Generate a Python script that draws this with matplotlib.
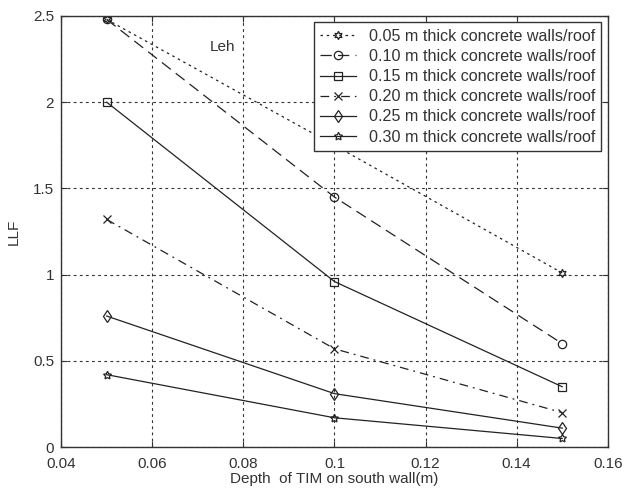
import matplotlib
matplotlib.use('Agg')
import matplotlib.pyplot as plt

plt.rcParams['font.family'] = ['Liberation Sans', 'DejaVu Sans']

depth = [0.05, 0.10, 0.15]

llf_005 = [2.48, 1.75, 1.01]
llf_010 = [2.48, 1.45, 0.60]
llf_015 = [2.00, 0.96, 0.35]
llf_020 = [1.32, 0.57, 0.20]
llf_025 = [0.76, 0.31, 0.11]
llf_030 = [0.42, 0.17, 0.05]

labels = ['0.05 m thick concrete walls/roof',
          '0.10 m thick concrete walls/roof',
          '0.15 m thick concrete walls/roof',
          '0.20 m thick concrete walls/roof',
          '0.25 m thick concrete walls/roof',
          '0.30 m thick concrete walls/roof']

x_ticks = [0.04, 0.06, 0.08, 0.1, 0.12, 0.14, 0.16]
x_tick_labels = ['0.04', '0.06', '0.08', '0.1', '0.12', '0.14', '0.16']
y_ticks = [0, 0.5, 1, 1.5, 2, 2.5]
y_tick_labels = ['0', '0.5', '1', '1.5', '2', '2.5']

fig = plt.figure(figsize=(6.24, 4.99), dpi=100)
ax = fig.add_axes([0.098, 0.104, 0.876, 0.864])

c = '#222222'
common = dict(color=c, lw=0.9, ms=6, mfc='none', mec=c, mew=0.9)
ax.plot(depth, llf_005, ls=(0, (2, 3)), marker=(6, 1, 0), label=labels[0], **common)
ax.plot(depth, llf_010, ls=(0, (9, 5)), marker='o', label=labels[1], **common)
ax.plot(depth, llf_015, ls='-', marker='s', label=labels[2], **common)
ax.plot(depth, llf_020, ls=(0, (7, 4, 1.5, 4)), marker='x', label=labels[3], **common)
ax.plot(depth, llf_025, ls='-', marker='d', label=labels[4], **common)
ax.plot(depth, llf_030, ls='-', marker=(5, 1, 0), label=labels[5], **common)

ax.set_xlim(0.04, 0.16)
ax.set_ylim(0, 2.5)
ax.set_xticks(x_ticks)
ax.set_xticklabels(x_tick_labels)
ax.set_yticks(y_ticks)
ax.set_yticklabels(y_tick_labels)
ax.tick_params(direction='in', length=4, labelsize=11, colors='#333333',
               top=True, right=True, pad=5)
ax.tick_params(axis='x', pad=7)
ax.grid(True, ls=(0, (2.5, 3)), color='#333333', lw=0.8)
for s in ax.spines.values():
    s.set_color('#333333')
    s.set_linewidth(1.0)

ax.set_xlabel('Depth  of TIM on south wall(m)', fontsize=11, color='#333333', labelpad=1)
ax.set_ylabel('LLF', fontsize=11, color='#333333')
ax.yaxis.set_label_coords(-0.074, 0.5)
ax.text(0.0755, 2.32, 'Leh', fontsize=11, color='#333333', ha='center', va='center')

leg = ax.legend(loc='upper right', fontsize=11.6, frameon=True, fancybox=False,
                edgecolor='#333333', framealpha=1, borderpad=0.4, labelspacing=0.32,
                handlelength=2.2, handletextpad=0.8, borderaxespad=0.4)
leg.get_frame().set_linewidth(1.0)
for t in leg.get_texts():
    t.set_color('#333333')

fig.savefig('out.png', dpi=100)
